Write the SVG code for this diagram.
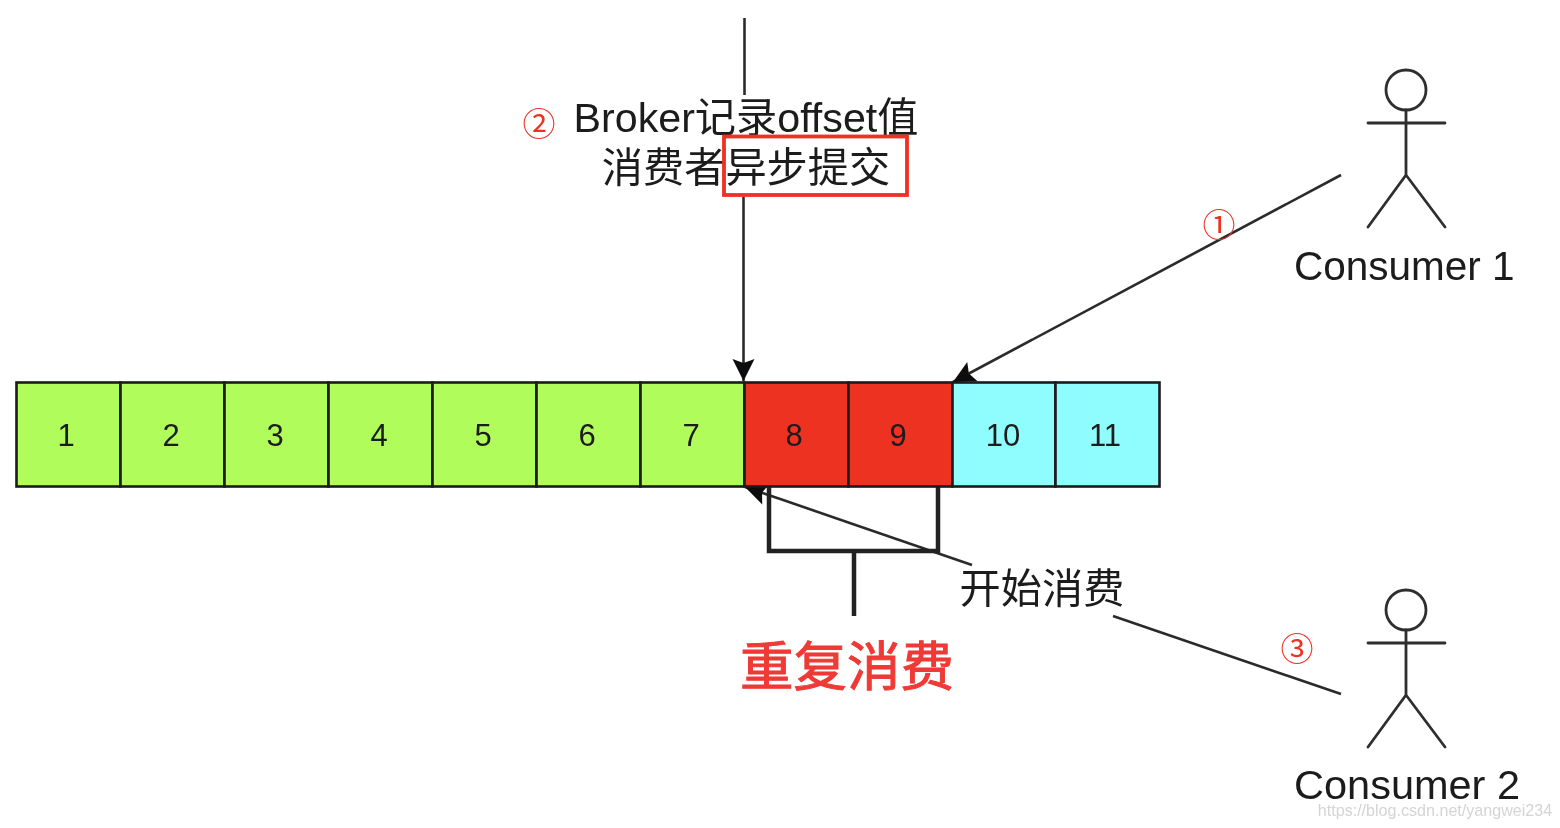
<svg xmlns="http://www.w3.org/2000/svg" width="1560" height="828" viewBox="0 0 1560 828">
<style>
text{font-family:"Liberation Sans","Noto Sans CJK SC",sans-serif;fill:#1a1a1a;text-anchor:middle}
.cell{stroke:#1c1c1c;stroke-width:2.6}
.g{fill:#b0fc5a}.r{fill:#ee3123}.c{fill:#8ffdfd}
.n{font-size:31px}
.lb{font-size:41.200px}
.ca{font-size:40.500px;text-anchor:start}
.mk{font-size:33px;fill:#ee3123;font-family:"Noto Sans CJK SC",sans-serif}
.ln{fill:none;stroke:#2a2a2a;stroke-width:2.6}
.ac{fill:none;stroke:#2e2e2e;stroke-width:2.8;stroke-linecap:round}
.br{fill:none;stroke:#222;stroke-width:4.5}
</style>
<defs>
<filter id="soft" x="-5%" y="-5%" width="110%" height="110%"><feGaussianBlur stdDeviation="0.7"/></filter>
<marker id="ah" markerUnits="userSpaceOnUse" markerWidth="28" markerHeight="28" refX="23" refY="14" orient="auto"><path d="M1 3L23 14L1 25L5 14Z" fill="#111"/></marker>
<g id="actor" class="ac"><circle cx="1406" cy="90" r="20"/><path d="M1406 110V175M1368 123H1445M1406 175L1368 227M1406 175L1445 227"/></g>
</defs>
<rect width="1560" height="828" fill="#fff"/>
<g filter="url(#soft)">
<g id="connectors">
<path class="ln" d="M744.500 18V95"/>
<path class="ln" d="M743.500 197V381" marker-end="url(#ah)"/>
<path class="ln" d="M1341 175L953 382" marker-end="url(#ah)"/>
<path class="ln" d="M972 565L745 487" marker-end="url(#ah)"/>
<path class="ln" d="M1341 694L1113 616"/>
<path class="br" d="M769 487V551H938V487M854 551V616"/>
</g>
<g id="cell-1"><rect class="cell g" x="16.500" y="382.500" width="104" height="104"/><text class="n" x="66" y="446">1</text></g>
<g id="cell-2"><rect class="cell g" x="120.500" y="382.500" width="104" height="104"/><text class="n" x="171" y="446">2</text></g>
<g id="cell-3"><rect class="cell g" x="224.500" y="382.500" width="104" height="104"/><text class="n" x="275" y="446">3</text></g>
<g id="cell-4"><rect class="cell g" x="328.500" y="382.500" width="104" height="104"/><text class="n" x="379" y="446">4</text></g>
<g id="cell-5"><rect class="cell g" x="432.500" y="382.500" width="104" height="104"/><text class="n" x="483" y="446">5</text></g>
<g id="cell-6"><rect class="cell g" x="536.500" y="382.500" width="104" height="104"/><text class="n" x="587" y="446">6</text></g>
<g id="cell-7"><rect class="cell g" x="640.500" y="382.500" width="104" height="104"/><text class="n" x="691" y="446">7</text></g>
<g id="cell-8"><rect class="cell r" x="744.500" y="382.500" width="104" height="104"/><text class="n" x="794" y="446">8</text></g>
<g id="cell-9"><rect class="cell r" x="848.500" y="382.500" width="104" height="104"/><text class="n" x="898" y="446">9</text></g>
<g id="cell-10"><rect class="cell c" x="952.500" y="382.500" width="103" height="104"/><text class="n" x="1003" y="446">10</text></g>
<g id="cell-11"><rect class="cell c" x="1055.500" y="382.500" width="104" height="104"/><text class="n" x="1105" y="446">11</text></g>
<g id="consumer-1"><use href="#actor"/><text class="ca" x="1294" y="280">Consumer 1</text></g>
<g id="consumer-2"><use href="#actor" y="520"/><text class="ca" x="1294" y="799" style="font-size:41.500px">Consumer 2</text></g>
<g id="broker-label"><text class="lb" x="746" y="132">Broker记录offset值</text><text class="lb" x="746" y="182">消费者异步提交</text></g>
<g id="start-label"><text class="lb" x="1042" y="603">开始消费</text></g>
<g id="repeat-label"><text x="847" y="686" style="font-size:53.500px;fill:#ee3a35;stroke:#ee3a35;stroke-width:1">重复消费</text></g>
</g>
<rect id="highlight" x="724" y="136.500" width="183" height="58.500" fill="none" stroke="#ee3123" stroke-width="3.800"/>
<g id="marks"><text class="mk" x="539" y="136">②</text><text class="mk" x="1219" y="237">①</text><text class="mk" x="1297" y="661">③</text></g>
<text id="watermark" x="1435" y="816" style="font-size:16.100px;fill:#d4d4d4">https://blog.csdn.net/yangwei234</text>
</svg>
